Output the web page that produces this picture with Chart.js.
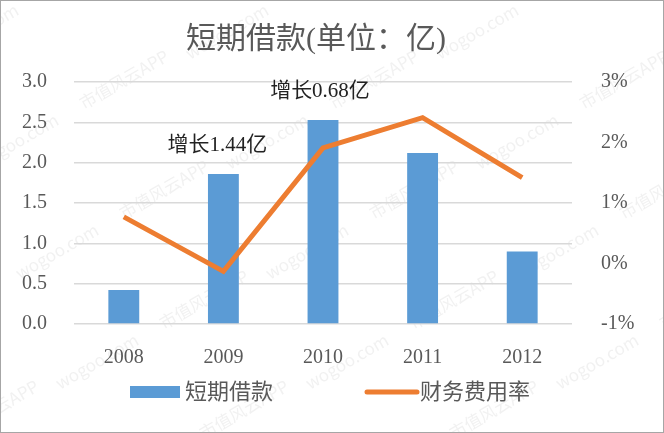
<!DOCTYPE html>
<html>
<head>
<meta charset="utf-8">
<script src="https://cdn.jsdelivr.net/npm/chart.js@4"></script>
<style>
  html, body { margin: 0; padding: 0; background: #fff; }
  #wrap { width: 664px; height: 433px; }
</style>
</head>
<body>
<div id="wrap"><canvas id="chart" width="664" height="433"></canvas></div>
<script>
// Data
const years = ['2008', '2009', '2010', '2011', '2012'];
const loans = [0.42, 1.86, 2.53, 2.12, 0.90];        // 短期借款 (亿)
const financeRate = [0.77, -0.13, 1.91, 2.41, 1.42];  // 财务费用率 (%)
const notes = [null, '增长1.44亿', '增长0.68亿', null, null];

const FONT = '"Liberation Serif", "Noto Sans CJK SC", serif';
const CJK = '"Noto Sans CJK SC", sans-serif';
const TXT = '#595959';

// Title, notes, legend, frame
const decor = {
  id: 'decor',
  beforeDraw(chart) {
    const ctx = chart.ctx;
    ctx.save();
    ctx.fillStyle = '#fff';
    ctx.fillRect(0, 0, chart.width, chart.height);
    // faint watermark
    ctx.fillStyle = 'rgba(180,180,180,0.18)';
    ctx.font = '17px ' + CJK;
    for (let row = -2; row < 8; row++) {
      for (let col = -1; col < 5; col++) {
        ctx.save();
        ctx.translate(col * 250 + row * 40 - 60, row * 110 + 60);
        ctx.rotate(-Math.PI / 6);
        ctx.fillText('wogoo.com', 0, 0);
        ctx.fillText('市值风云APP', 120, 0);
        ctx.restore();
      }
    }
    ctx.restore();
  },
  afterDatasetsDraw(chart) {
    const ctx = chart.ctx;
    const x = chart.scales.x, y = chart.scales.y;
    ctx.save();
    ctx.fillStyle = '#222';
    ctx.font = '21px ' + FONT;
    ctx.textAlign = 'center';
    ctx.textBaseline = 'middle';
    notes.forEach((n, i) => {
      if (!n) return;
      const px = x.getPixelForValue(i);
      const py = y.getPixelForValue(loans[i]);
      ctx.fillText(n, px - 3 - (i === 1 ? 3 : 0), py - 28);
    });
    ctx.restore();
  },
  afterDraw(chart) {
    const ctx = chart.ctx;
    ctx.save();
    // title
    ctx.fillStyle = TXT;
    ctx.font = '30px ' + FONT;
    ctx.textAlign = 'center';
    ctx.textBaseline = 'middle';
    ctx.fillText('短期借款(单位：亿)', 316, 40);
    // legend
    ctx.font = '22px ' + FONT;
    ctx.textAlign = 'left';
    ctx.fillStyle = '#5b9bd5';
    ctx.fillRect(130, 386, 50, 12);
    ctx.fillStyle = TXT;
    ctx.fillText('短期借款', 185, 393);
    ctx.strokeStyle = '#ed7d31';
    ctx.lineWidth = 5;
    ctx.lineCap = 'round';
    ctx.beginPath();
    ctx.moveTo(367, 392);
    ctx.lineTo(417, 392);
    ctx.stroke();
    ctx.fillText('财务费用率', 420, 393);
    // frame
    ctx.strokeStyle = '#a6a6a6';
    ctx.lineWidth = 1;
    ctx.strokeRect(0.5, 0.5, chart.width - 1, chart.height - 1);
    ctx.restore();
  }
};

const ctx = document.getElementById('chart').getContext('2d');
new Chart(ctx, {
  data: {
    labels: years,
    datasets: [
      {
        type: 'line',
        label: '财务费用率',
        data: financeRate,
        yAxisID: 'y1',
        borderColor: '#ed7d31',
        borderWidth: 5,
        pointRadius: 0,
        tension: 0,
        order: 0,
      },
      {
        type: 'bar',
        label: '短期借款',
        data: loans,
        yAxisID: 'y',
        backgroundColor: '#5b9bd5',
        barPercentage: 0.62,
        categoryPercentage: 0.5,
        order: 1,
      },
    ],
  },
  options: {
    responsive: false,
    animation: false,
    layout: { padding: { top: 82, bottom: 69, left: 0, right: 0 } },
    plugins: {
      legend: { display: false },
      title: { display: false },
      tooltip: { enabled: false },
    },
    scales: {
      x: {
        grid: { display: false },
        border: { display: false },
        ticks: { color: TXT, font: { family: FONT, size: 20 }, padding: 14 },
        afterFit(s) { s.height = 40; },
      },
      y: {
        position: 'left',
        min: 0,
        max: 3,
        ticks: {
          stepSize: 0.5,
          color: TXT,
          font: { family: FONT, size: 20 },
          padding: 27,
          callback: (v) => v.toFixed(1),
        },
        grid: { color: '#d9d9d9', lineWidth: 1.5, drawTicks: false },
        border: { display: false },
        afterFit(s) { s.width = 74; },
      },
      y1: {
        position: 'right',
        min: -1,
        max: 3,
        ticks: {
          stepSize: 1,
          color: TXT,
          font: { family: FONT, size: 20 },
          padding: 21,
          callback: (v) => v + '%',
        },
        grid: { display: false },
        border: { display: false },
        afterFit(s) { s.width = 92; },
      },
    },
  },
  plugins: [decor],
});
</script>
</body>
</html>
